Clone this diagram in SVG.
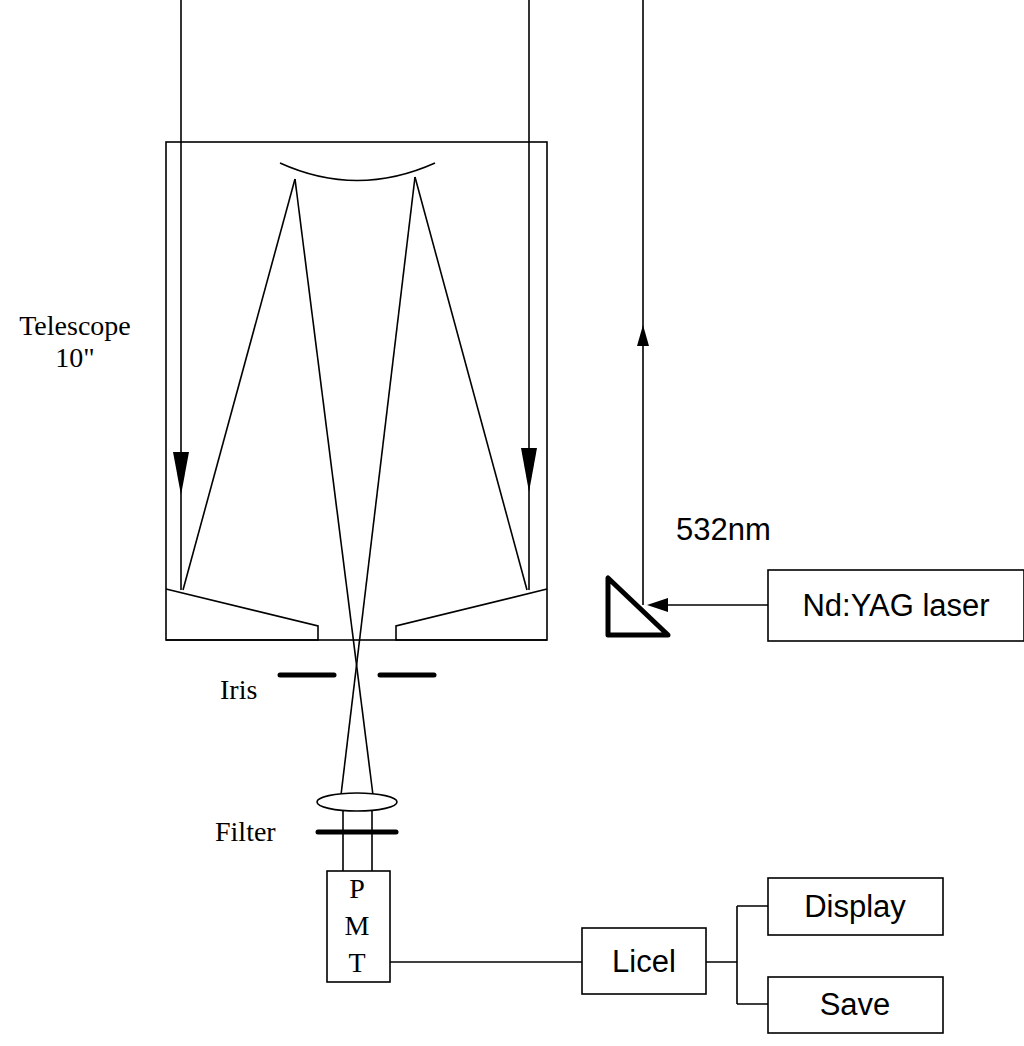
<svg xmlns="http://www.w3.org/2000/svg" width="1024" height="1046" viewBox="0 0 1024 1046">
<style>
.l{stroke:#000;stroke-width:1.6;fill:none}
.t{stroke:#000;stroke-width:5;fill:none;stroke-linecap:round}
.b{stroke:#000;stroke-width:1.6;fill:#fff}
.s{font-family:"Liberation Serif",serif;font-size:28px;fill:#000}
.a{font-family:"Liberation Sans",sans-serif;font-size:31px;fill:#000}
</style>
<rect width="1024" height="1046" fill="#fff"/>
<g id="telescope">
<rect x="166" y="142" width="381" height="498" class="l"/>
<path d="M280,163 Q357,198 435,163" class="l"/>
<path d="M166,589 L318,626 L318,640 L166,640" class="l"/>
<path d="M547,589 L396,626 L396,640 L547,640" class="l"/>
</g>
<g id="rays">
<line x1="181" y1="0" x2="181" y2="590" class="l"/>
<polygon points="173,452 189,452 181,495" fill="#000"/>
<line x1="529" y1="0" x2="529" y2="590" class="l"/>
<polygon points="521,448 537,448 529,492" fill="#000"/>
<line x1="183" y1="590" x2="295" y2="179" class="l"/>
<line x1="527" y1="590" x2="415" y2="177" class="l"/>
<line x1="295" y1="179" x2="373" y2="795" class="l"/>
<line x1="415" y1="177" x2="341" y2="795" class="l"/>
<line x1="343" y1="810" x2="343" y2="871" class="l"/>
<line x1="372" y1="810" x2="372" y2="871" class="l"/>
</g>
<g id="iris">
<line x1="280" y1="675" x2="334" y2="675" class="t"/>
<line x1="380" y1="675" x2="434" y2="675" class="t"/>
<text x="220" y="699" class="s">Iris</text>
</g>
<g id="lens"><ellipse cx="357" cy="802" rx="40" ry="9" class="b"/></g>
<g id="filter">
<line x1="318" y1="832" x2="396" y2="832" class="t"/>
<text x="215" y="841" class="s">Filter</text>
</g>
<g id="pmt">
<rect x="327" y="871" width="63" height="111" class="b"/>
<text x="357" y="898" class="s" text-anchor="middle">P</text>
<text x="357" y="935" class="s" text-anchor="middle">M</text>
<text x="357" y="972" class="s" text-anchor="middle">T</text>
</g>
<g id="label"><text x="75" y="335" class="s" text-anchor="middle">Telescope</text><text x="75" y="367" class="s" text-anchor="middle">10"</text></g>
<g id="laserpath">
<line x1="643" y1="0" x2="643" y2="605" class="l"/>
<polygon points="643,325 637,346 649,346" fill="#000"/>
<line x1="768" y1="605" x2="650" y2="605" class="l"/>
<polygon points="647,605 668,598 668,612" fill="#000"/>
<polygon points="608,578 608,635 668,635" class="t" stroke-linejoin="round"/>
<text x="676" y="540" class="a" font-size="28">532nm</text>
</g>
<g id="laser"><rect x="768" y="570" width="256" height="71" class="b"/><text x="896" y="616" class="a" text-anchor="middle">Nd:YAG laser</text></g>
<g id="connectors">
<line x1="390" y1="962" x2="582" y2="962" class="l"/>
<path d="M706,962 H737 M737,906 V1004 M737,906 H768 M737,1004 H768" class="l"/>
</g>
<g id="licel"><rect x="582" y="928" width="124" height="66" class="b"/><text x="644" y="972" class="a" text-anchor="middle">Licel</text></g>
<g id="display"><rect x="768" y="878" width="175" height="57" class="b"/><text x="855" y="917" class="a" text-anchor="middle">Display</text></g>
<g id="save"><rect x="768" y="977" width="175" height="56" class="b"/><text x="855" y="1015" class="a" text-anchor="middle">Save</text></g>
</svg>
